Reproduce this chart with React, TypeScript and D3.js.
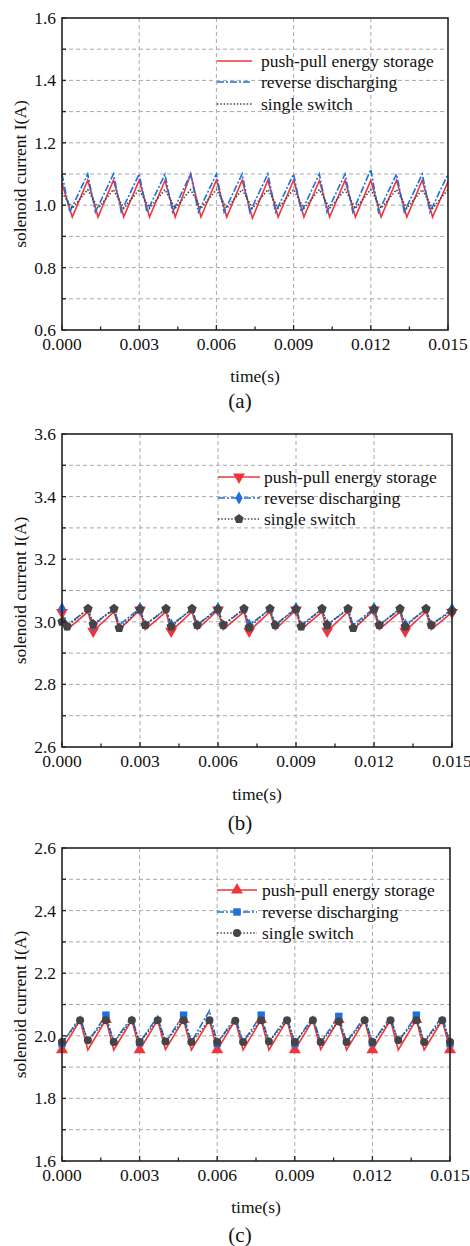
import React from "react";
import * as d3 from "d3";

// ---------- data ----------
const X_TICKS = [0, 0.003, 0.006, 0.009, 0.012, 0.015];
const X_TICK_LABELS = ["0.000", "0.003", "0.006", "0.009", "0.012", "0.015"];
const SERIES_NAMES = ["push-pull energy storage", "reverse discharging", "single switch"];
const PANEL_LABELS = ["(a)", "(b)", "(c)"];
const Y_TITLE = "solenoid current I(A)";
const X_TITLE = "time(s)";

const Y_DOMAIN_A = [0.6, 1.6];
const Y_DOMAIN_B = [2.6, 3.6];
const Y_DOMAIN_C = [1.6, 2.6];
const Y_LABELS_A = [0.6, 0.8, 1.0, 1.2, 1.4, 1.6];
const Y_LABELS_B = [2.6, 2.8, 3.0, 3.2, 3.4, 3.6];
const Y_LABELS_C = [1.6, 1.8, 2.0, 2.2, 2.4, 2.6];

// panel (a)
const T_A = [0, 0.0004, 0.001, 0.0014, 0.002, 0.0024, 0.003, 0.0034, 0.004, 0.0044, 0.005, 0.0054, 0.006, 0.0064, 0.007, 0.0074, 0.008, 0.0084, 0.009, 0.0094, 0.010, 0.0104, 0.011, 0.0114, 0.012, 0.0124, 0.013, 0.0134, 0.014, 0.0144, 0.015];
const T_A_BLUE = [0, 0.0003, 0.001, 0.0013, 0.002, 0.0023, 0.003, 0.0033, 0.004, 0.0043, 0.005, 0.0053, 0.006, 0.0063, 0.007, 0.0073, 0.008, 0.0083, 0.009, 0.0093, 0.010, 0.0103, 0.011, 0.0113, 0.012, 0.0123, 0.013, 0.0133, 0.014, 0.0143, 0.015];
const RED_A = [1.07, 0.962, 1.08, 0.962, 1.08, 0.963, 1.08, 0.962, 1.079, 0.962, 1.10, 0.962, 1.08, 0.962, 1.08, 0.958, 1.08, 0.962, 1.08, 0.962, 1.079, 0.962, 1.08, 0.962, 1.08, 0.962, 1.08, 0.962, 1.08, 0.962, 1.075];
const BLUE_A = [1.10, 0.978, 1.10, 0.978, 1.10, 0.979, 1.10, 0.978, 1.099, 0.978, 1.10, 0.978, 1.10, 0.978, 1.10, 0.978, 1.10, 0.978, 1.10, 0.978, 1.10, 0.978, 1.10, 0.978, 1.115, 0.978, 1.10, 0.978, 1.10, 0.978, 1.10];
const BLACK_A = [1.04, 0.99, 1.05, 0.99, 1.05, 0.99, 1.05, 0.99, 1.05, 0.99, 1.05, 0.99, 1.05, 0.99, 1.05, 0.99, 1.05, 0.99, 1.05, 0.99, 1.05, 0.99, 1.05, 0.99, 1.05, 0.99, 1.05, 0.99, 1.05, 0.99, 1.05];

// panel (b)
const T_B = [0, 0.0002, 0.001, 0.0012, 0.002, 0.0022, 0.003, 0.0032, 0.004, 0.0042, 0.005, 0.0052, 0.006, 0.0062, 0.007, 0.0072, 0.008, 0.0082, 0.009, 0.0092, 0.010, 0.0102, 0.011, 0.0112, 0.012, 0.0122, 0.013, 0.0132, 0.014, 0.0142, 0.015];
const RED_B = [3.03, 2.975, 3.032, 2.97, 3.032, 2.975, 3.038, 2.975, 3.032, 2.97, 3.032, 2.975, 3.038, 2.975, 3.032, 2.97, 3.032, 2.975, 3.038, 2.975, 3.032, 2.97, 3.032, 2.975, 3.038, 2.975, 3.032, 2.97, 3.032, 2.975, 3.03];
const BLUE_B = [3.042, 2.99, 3.04, 2.99, 3.04, 2.99, 3.043, 2.99, 3.04, 2.99, 3.04, 2.99, 3.043, 2.99, 3.04, 2.99, 3.04, 2.99, 3.043, 2.99, 3.04, 2.99, 3.04, 2.99, 3.043, 2.99, 3.04, 2.99, 3.04, 2.99, 3.04];
const BLACK_B = [3.0, 2.985, 3.042, 2.992, 3.042, 2.98, 3.04, 2.99, 3.042, 2.985, 3.042, 2.99, 3.04, 2.99, 3.042, 2.982, 3.042, 2.99, 3.04, 2.985, 3.042, 2.99, 3.042, 2.98, 3.04, 2.99, 3.042, 2.985, 3.042, 2.99, 3.035];

// panel (c)
const T_C = [0, 0.0007, 0.001, 0.0017, 0.002, 0.0027, 0.003, 0.0037, 0.004, 0.0047, 0.005, 0.0057, 0.006, 0.0067, 0.007, 0.0077, 0.008, 0.0087, 0.009, 0.0097, 0.010, 0.0107, 0.011, 0.0117, 0.012, 0.0127, 0.013, 0.0137, 0.014, 0.0147, 0.015];
const RED_C = [1.955, 2.05, 1.955, 2.052, 1.955, 2.05, 1.955, 2.05, 1.956, 2.052, 1.955, 2.05, 1.955, 2.05, 1.955, 2.052, 1.955, 2.05, 1.955, 2.05, 1.956, 2.052, 1.955, 2.05, 1.955, 2.05, 1.955, 2.052, 1.955, 2.05, 1.955];
const BLUE_C = [1.975, 2.06, 1.98, 2.066, 1.98, 2.06, 1.978, 2.062, 1.98, 2.066, 1.98, 2.08, 1.975, 2.06, 1.98, 2.066, 1.98, 2.06, 1.975, 2.06, 1.98, 2.062, 1.98, 2.06, 1.978, 2.06, 1.98, 2.066, 1.98, 2.062, 1.975];
const BLACK_C = [1.98, 2.05, 1.986, 2.05, 1.98, 2.05, 1.98, 2.05, 1.982, 2.05, 1.98, 2.05, 1.98, 2.048, 1.98, 2.05, 1.982, 2.05, 1.98, 2.05, 1.98, 2.046, 1.98, 2.05, 1.98, 2.05, 1.986, 2.05, 1.98, 2.05, 1.98];

// ---------- styles ----------
const RED = "#f0363c";
const BLUE = "#1f6fdc";
const GREY = "#454545";
const FONT = "'Liberation Serif', 'Times New Roman', serif";
const FS = 17.5;

const symbolPentagon = {
  draw(ctx: any, size: number) {
    const r = Math.sqrt(size / (2.5 * Math.sin((2 * Math.PI) / 5)));
    for (let i = 0; i < 5; i++) {
      const a = -Math.PI / 2 + (i * 2 * Math.PI) / 5;
      const px = r * Math.cos(a), py = r * Math.sin(a);
      if (i === 0) ctx.moveTo(px, py); else ctx.lineTo(px, py);
    }
    ctx.closePath();
  },
};

type Marker = { type: any; size: number; rotate?: number; every: number };
type Series = { t: number[]; v: number[]; color: string; dash?: string; width: number; marker?: Marker };

type PanelCfg = {
  top: number; bottom: number; left: number; right: number;
  yDomain: number[]; yLabels: number[];
  series: Series[];
  legend: { x0: number; x1: number; tx: number; rows: number[] };
  label: string; timeY: number; labelY: number;
};

const panels: PanelCfg[] = [
  {
    top: 18, bottom: 330, left: 62, right: 448, yDomain: Y_DOMAIN_A, yLabels: Y_LABELS_A,
    series: [
      { t: T_A, v: RED_A, color: RED, width: 1.6 },
      { t: T_A_BLUE, v: BLUE_A, color: BLUE, dash: "7,2,2,2", width: 1.6 },
      { t: T_A, v: BLACK_A, color: GREY, dash: "1.5,1.8", width: 1.6 },
    ],
    legend: { x0: 217, x1: 252, tx: 261, rows: [61, 82, 104] },
    label: PANEL_LABELS[0], timeY: 376, labelY: 401,
  },
  {
    top: 434, bottom: 747, left: 62, right: 452, yDomain: Y_DOMAIN_B, yLabels: Y_LABELS_B,
    series: [
      { t: T_B, v: RED_B, color: RED, width: 1.6, marker: { type: d3.symbolTriangle, size: 62, rotate: 180, every: 3 } },
      { t: T_B, v: BLUE_B, color: BLUE, dash: "7,2,2,2", width: 1.6, marker: { type: d3.symbolDiamond, size: 48, every: 3 } },
      { t: T_B, v: BLACK_B, color: GREY, dash: "1.5,1.8", width: 1.6, marker: { type: symbolPentagon, size: 58, every: 1 } },
    ],
    legend: { x0: 218, x1: 260, tx: 264, rows: [477, 498, 519] },
    label: PANEL_LABELS[1], timeY: 794, labelY: 823,
  },
  {
    top: 848, bottom: 1161, left: 62, right: 450, yDomain: Y_DOMAIN_C, yLabels: Y_LABELS_C,
    series: [
      { t: T_C, v: RED_C, color: RED, width: 1.6, marker: { type: d3.symbolTriangle, size: 62, every: 3 } },
      { t: T_C, v: BLUE_C, color: BLUE, dash: "7,2,2,2", width: 1.6, marker: { type: d3.symbolSquare, size: 55, every: 3 } },
      { t: T_C, v: BLACK_C, color: GREY, dash: "1.5,1.8", width: 1.6, marker: { type: d3.symbolCircle, size: 50, every: 1 } },
    ],
    legend: { x0: 217, x1: 257, tx: 262, rows: [890, 912, 933] },
    label: PANEL_LABELS[2], timeY: 1207, labelY: 1235,
  },
];

function Panel({ cfg }: { cfg: PanelCfg }) {
  const x = d3.scaleLinear().domain([0, 0.015]).range([cfg.left, cfg.right]);
  const y = d3.scaleLinear().domain(cfg.yDomain).range([cfg.bottom, cfg.top]);
  const yGrid = d3.range(1, 10).map((i) => cfg.yDomain[0] + i * 0.1);
  const yMinorTicks = d3.range(0, 11).map((i) => cfg.yDomain[0] + i * 0.1);
  const xMinor = d3.range(0, 11).map((i) => i * 0.0015);
  const cx = (cfg.left + cfg.right) / 2;
  const cy = (cfg.top + cfg.bottom) / 2;

  return (
    <g>
      {/* grid */}
      {yGrid.map((g, i) => (
        <line key={"hg" + i} x1={cfg.left} x2={cfg.right} y1={y(g)} y2={y(g)} stroke="#a8a8a8" strokeWidth={1} strokeDasharray="4,3" />
      ))}
      {X_TICKS.slice(1, -1).map((t, i) => (
        <line key={"vg" + i} x1={x(t)} x2={x(t)} y1={cfg.top} y2={cfg.bottom} stroke="#a8a8a8" strokeWidth={1} strokeDasharray="4,3" />
      ))}
      {/* series */}
      {cfg.series.map((s, si) => {
        const pts = s.t.map((t, i) => [x(t), y(s.v[i])] as [number, number]);
        return (
          <g key={"s" + si}>
            <path d={d3.line()(pts) || ""} fill="none" stroke={s.color} strokeWidth={s.width} strokeDasharray={s.dash} strokeLinejoin="miter" />
          </g>
        );
      })}
      {cfg.series.map((s, si) =>
        s.marker ? (
          <g key={"m" + si}>
            {s.t.map((t, i) =>
              i % s.marker!.every === 0 ? (
                <path
                  key={i}
                  d={d3.symbol(s.marker!.type, s.marker!.size)() || ""}
                  transform={`translate(${x(t)},${y(s.v[i])}) rotate(${s.marker!.rotate || 0})`}
                  fill={s.color}
                />
              ) : null
            )}
          </g>
        ) : null
      )}
      {/* frame */}
      <rect x={cfg.left} y={cfg.top} width={cfg.right - cfg.left} height={cfg.bottom - cfg.top} fill="none" stroke="#222" strokeWidth={1.6} />
      {/* ticks */}
      {yMinorTicks.map((g, i) => (
        <line key={"yt" + i} x1={cfg.left} x2={cfg.left + 4} y1={y(g)} y2={y(g)} stroke="#222" strokeWidth={1.3} />
      ))}
      {xMinor.map((t, i) => (
        <line key={"xt" + i} x1={x(t)} x2={x(t)} y1={cfg.bottom} y2={cfg.bottom - (i % 2 === 0 ? 5 : 3.5)} stroke="#222" strokeWidth={1.3} />
      ))}
      {/* tick labels */}
      {cfg.yLabels.map((v, i) => (
        <text key={"yl" + i} x={cfg.left - 6} y={y(v)} textAnchor="end" dominantBaseline="central" fontSize={FS} fontFamily={FONT} fill="#111">
          {v.toFixed(1)}
        </text>
      ))}
      {X_TICKS.map((t, i) => (
        <text key={"xl" + i} x={x(t)} y={cfg.bottom + 14} textAnchor="middle" dominantBaseline="central" fontSize={FS} fontFamily={FONT} fill="#111">
          {X_TICK_LABELS[i]}
        </text>
      ))}
      {/* titles */}
      <text x={cx} y={cfg.timeY} textAnchor="middle" dominantBaseline="central" fontSize={FS} fontFamily={FONT} fill="#111">{X_TITLE}</text>
      <text x={240} y={cfg.labelY} textAnchor="middle" dominantBaseline="central" fontSize={21} fontFamily={FONT} fill="#111">{cfg.label}</text>
      <text transform={`translate(20,${cy}) rotate(-90)`} textAnchor="middle" dominantBaseline="central" fontSize={FS} fontFamily={FONT} fill="#111">{Y_TITLE}</text>
      {/* legend */}
      {cfg.series.map((s, i) => {
        const ry = cfg.legend.rows[i];
        const mx = (cfg.legend.x0 + cfg.legend.x1) / 2;
        return (
          <g key={"lg" + i}>
            <line x1={cfg.legend.x0} x2={cfg.legend.x1} y1={ry} y2={ry} stroke={s.color} strokeWidth={s.width} strokeDasharray={s.dash} />
            {s.marker ? (
              <path d={d3.symbol(s.marker.type, s.marker.size)() || ""} transform={`translate(${mx},${ry}) rotate(${s.marker.rotate || 0})`} fill={s.color} />
            ) : null}
            <text x={cfg.legend.tx} y={ry} dominantBaseline="central" fontSize={FS} fontFamily={FONT} fill="#111">{SERIES_NAMES[i]}</text>
          </g>
        );
      })}
    </g>
  );
}

export default function App() {
  return (
    <svg width={470} height={1246} style={{ position: "absolute", left: 0, top: 0, background: "#fff" }}>
      <rect x={0} y={0} width={470} height={1246} fill="#fff" />
      {panels.map((p, i) => (
        <Panel key={i} cfg={p} />
      ))}
    </svg>
  );
}
